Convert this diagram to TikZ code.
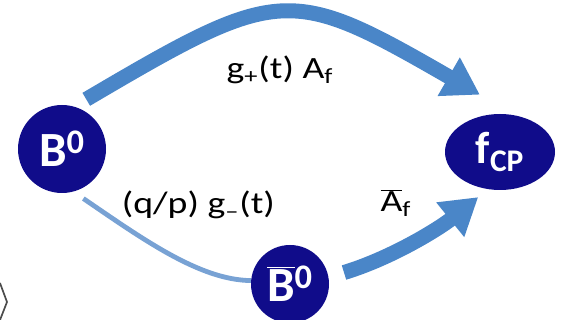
\documentclass[tikz,border=0pt]{standalone}
\usepackage{graphicx}
\usepackage{fontspec}
\setmainfont{Carlito}
\usepackage{tikz}
\usetikzlibrary{arrows.meta,shapes.geometric}
\definecolor{mesonblue}{RGB}{16,12,138}
\definecolor{arrowblue}{RGB}{74,134,200}
\definecolor{mixblue}{RGB}{120,162,212}
\newcommand{\widetxt}[1]{\scalebox{1.22}[1]{#1}}

\begin{document}
\begin{tikzpicture}[>={Triangle[width=1.05cm,length=0.9cm]},
  meson/.style={circle,fill=mesonblue,text=white,inner sep=0pt,minimum size=2.2cm,font=\fontsize{35}{35}\selectfont\bfseries},
  final/.style={ellipse,fill=mesonblue,text=white,inner sep=0pt,minimum width=2.75cm,minimum height=1.9cm,font=\fontsize{32}{32}\selectfont\bfseries},
  amp/.style={font=\fontsize{22}{22}\selectfont},
  fat/.style={->,arrowblue,line width=0.375cm},
  mixline/.style={mixblue,line width=0.12cm}]
\useasboundingbox (0,0) rectangle (14.025,8);

\node[meson] (B) at (1.55,4.275) {B\textsuperscript{0}};
\node[final] (f) at (12.5,4.2) {f\textsubscript{CP}};
\node[meson,minimum size=1.95cm] (Bbar) at (7.25,0.9) {$\overline{\mbox{B}}$\textsuperscript{0}};

\draw[fat,shorten <=0.35cm,shorten >=1.03cm] (B.74) .. controls (7.0,8.37) and (7.24,8.375) .. (f.67);
\draw[fat,shorten <=0.4cm,shorten >=0.31cm] (Bbar.10) .. controls (9.8,1.55) and (11.0,2.3) .. (f.252);
\draw[mixline,shorten <=0.3cm] (B.-75) .. controls (3.6,2.0) and (5.0,1.0) .. (Bbar.175);

\node[amp] (top) at (7.0,6.25) {\widetxt{g\textsubscript{+}(t) A\textsubscript{f}}};
\node[amp] (mix) at (4.96,2.875) {\widetxt{(q/p) g\textsubscript{–}(t)}};
\node[amp] (direct) at (9.9,2.925) {\widetxt{$\overline{\mbox{A}}$\textsubscript{f}}};

\draw[gray!60!black,line width=1.2pt] (0,0.925) -- (0.175,0.45) -- (0,0);
\end{tikzpicture}
\end{document}
